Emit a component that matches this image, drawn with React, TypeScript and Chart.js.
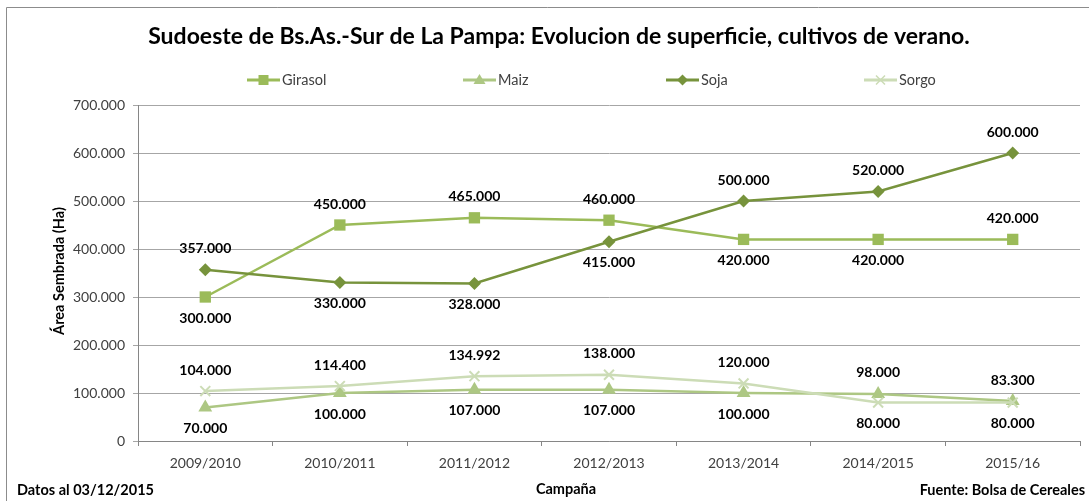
import { useEffect, useRef } from "react";
import { Chart, registerables } from "chart.js";

Chart.register(...registerables);

const categories = ["2009/2010", "2010/2011", "2011/2012", "2012/2013", "2013/2014", "2014/2015", "2015/16"];
const girasol = [300000, 450000, 465000, 460000, 420000, 420000, 420000];
const maiz = [70000, 100000, 107000, 107000, 100000, 98000, 83300];
const soja = [357000, 330000, 328000, 415000, 500000, 520000, 600000];
const sorgo = [104000, 114400, 134992, 138000, 120000, 80000, 80000];
const yMax = 700000;
const yStep = 100000;

// label placement (above / below the point)
const girasolPos = ["below", "above", "above", "above", "below", "below", "above"];
const maizPos = ["below", "below", "below", "below", "below", "above", "above"];
const sojaPos = ["above", "below", "below", "below", "above", "above", "above"];
const sorgoPos = ["above", "above", "above", "above", "above", "below", "below"];

const TITLE = "Sudoeste de Bs.As.-Sur de La Pampa: Evolucion de superficie, cultivos de verano.";
const Y_TITLE = "Área Sembrada (Ha)";
const X_TITLE = "Campaña";
const NOTE_LEFT = "Datos al 03/12/2015";
const NOTE_RIGHT = "Fuente: Bolsa de Cereales";

const FONT = "Lato, 'Open Sans', sans-serif";

const C_GIRASOL = "#9bbb59";
const C_MAIZ = "#adc783";
const C_SOJA = "#77933c";
const C_SORGO = "#ccdcb6";

function fmt(n: number): string {
  return String(Math.round(n)).replace(/\B(?=(\d{3})+(?!\d))/g, ".");
}

const placements = [girasolPos, maizPos, sojaPos, sorgoPos];

const customPlugin = {
  id: "custom",
  afterDatasetsDraw(chart: any) {
    const ctx = chart.ctx;
    ctx.save();
    ctx.font = `bold 14px ${FONT}`;
    ctx.fillStyle = "#000000";
    ctx.textAlign = "center";
    ctx.textBaseline = "middle";
    chart.data.datasets.forEach((ds: any, di: number) => {
      const meta = chart.getDatasetMeta(di);
      meta.data.forEach((pt: any, i: number) => {
        const pos = placements[di][i];
        const y = pos === "above" ? pt.y - 21 : pt.y + 21;
        ctx.fillText(fmt(ds.data[i]), pt.x, y);
      });
    });
    ctx.restore();
  },
  afterDraw(chart: any) {
    const ctx = chart.ctx;
    const W = chart.width;
    ctx.save();
    // frame
    ctx.strokeStyle = "#8c8c8c";
    ctx.lineWidth = 1;
    ctx.beginPath();
    ctx.moveTo(6.5, chart.height);
    ctx.lineTo(6.5, 7.5);
    ctx.lineTo(W, 7.5);
    ctx.stroke();

    // title
    ctx.fillStyle = "#000000";
    ctx.font = `bold 23px ${FONT}`;
    ctx.textAlign = "center";
    ctx.textBaseline = "middle";
    ctx.fillText(TITLE, 559, 37);

    // legend
    const items = [
      { label: "Girasol", color: C_GIRASOL, style: "rect", x: 247 },
      { label: "Maiz", color: C_MAIZ, style: "triangle", x: 463 },
      { label: "Soja", color: C_SOJA, style: "rectRot", x: 666 },
      { label: "Sorgo", color: C_SORGO, style: "crossRot", x: 864 },
    ];
    const ly = 80;
    items.forEach((it) => {
      ctx.strokeStyle = it.color;
      ctx.lineWidth = 3;
      ctx.beginPath();
      ctx.moveTo(it.x, ly);
      ctx.lineTo(it.x + 33, ly);
      ctx.stroke();
      ctx.fillStyle = it.color;
      ctx.strokeStyle = it.color;
      ctx.lineWidth = 1.5;
      const cx = it.x + 16.5;
      if (it.style === "rect") {
        ctx.fillRect(cx - 5, ly - 5, 10, 10);
      } else if (it.style === "triangle") {
        ctx.beginPath();
        ctx.moveTo(cx, ly - 6);
        ctx.lineTo(cx + 6, ly + 4);
        ctx.lineTo(cx - 6, ly + 4);
        ctx.closePath();
        ctx.fill();
      } else if (it.style === "rectRot") {
        ctx.beginPath();
        ctx.moveTo(cx, ly - 5.5);
        ctx.lineTo(cx + 5.5, ly);
        ctx.lineTo(cx, ly + 5.5);
        ctx.lineTo(cx - 5.5, ly);
        ctx.closePath();
        ctx.fill();
      } else {
        ctx.beginPath();
        ctx.moveTo(cx - 4.5, ly - 4.5);
        ctx.lineTo(cx + 4.5, ly + 4.5);
        ctx.moveTo(cx + 4.5, ly - 4.5);
        ctx.lineTo(cx - 4.5, ly + 4.5);
        ctx.stroke();
      }
      ctx.fillStyle = "#404040";
      ctx.font = `14.5px ${FONT}`;
      ctx.textAlign = "left";
      ctx.textBaseline = "middle";
      ctx.fillText(it.label, it.x + 35, ly);
    });

    // y axis title
    ctx.save();
    ctx.translate(59, 271);
    ctx.rotate(-Math.PI / 2);
    ctx.font = `bold 14.5px ${FONT}`;
    ctx.fillStyle = "#000000";
    ctx.textAlign = "center";
    ctx.textBaseline = "middle";
    ctx.fillText(Y_TITLE, 0, 0);
    ctx.restore();

    // x axis title & notes
    ctx.font = `bold 14.5px ${FONT}`;
    ctx.fillStyle = "#000000";
    ctx.textBaseline = "middle";
    ctx.textAlign = "center";
    ctx.fillText(X_TITLE, 566, 489);
    ctx.textAlign = "left";
    ctx.fillText(NOTE_LEFT, 17, 490);
    ctx.textAlign = "right";
    ctx.fillText(NOTE_RIGHT, 1085, 490);
    ctx.restore();
  },
};

export default function App() {
  const ref = useRef<HTMLCanvasElement | null>(null);
  useEffect(() => {
    document.body.style.margin = "0";
    const canvas = ref.current;
    if (!canvas) return;
    const chart = new Chart(canvas, {
      type: "line",
      data: {
        labels: categories,
        datasets: [
          {
            label: "Girasol",
            data: girasol,
            borderColor: C_GIRASOL,
            backgroundColor: C_GIRASOL,
            borderWidth: 2.5,
            pointStyle: "rect",
            pointRadius: 8,
            pointBorderWidth: 0,
            order: 4,
          },
          {
            label: "Maiz",
            data: maiz,
            borderColor: C_MAIZ,
            backgroundColor: C_MAIZ,
            borderWidth: 2.5,
            pointStyle: "triangle",
            pointRadius: 8,
            pointBorderWidth: 0,
            order: 3,
          },
          {
            label: "Soja",
            data: soja,
            borderColor: C_SOJA,
            backgroundColor: C_SOJA,
            borderWidth: 2.5,
            pointStyle: "rectRot",
            pointRadius: 6.5,
            pointBorderWidth: 0,
            order: 2,
          },
          {
            label: "Sorgo",
            data: sorgo,
            borderColor: C_SORGO,
            backgroundColor: C_SORGO,
            borderWidth: 2.5,
            pointStyle: "crossRot",
            pointRadius: 7,
            pointBorderWidth: 2,
            order: 1,
          },
        ],
      },
      options: {
        responsive: true,
        maintainAspectRatio: false,
        animation: false,
        layout: { padding: { top: 105, right: 9, left: 0, bottom: 0 } },
        plugins: {
          legend: { display: false },
          title: { display: false },
          tooltip: { enabled: false },
        },
        scales: {
          x: {
            type: "category",
            offset: true,
            grid: { offset: true, drawOnChartArea: false, tickLength: 5, color: "#868686" },
            border: { color: "#868686" },
            ticks: { font: { family: FONT, size: 14 }, color: "#404040", padding: 9, maxRotation: 0, autoSkip: false },
            afterFit: (s: any) => {
              s.height = 60;
            },
          },
          y: {
            min: 0,
            max: yMax,
            ticks: {
              stepSize: yStep,
              font: { family: FONT, size: 14 },
              color: "#404040",
              padding: 8,
              callback: (v: any) => fmt(Number(v)),
            },
            grid: { color: "#a6a6a6", tickLength: 5 },
            border: { color: "#868686" },
            afterFit: (s: any) => {
              s.width = 138;
            },
          },
        },
      },
      plugins: [customPlugin],
    });
    return () => chart.destroy();
  }, []);
  return (
    <div style={{ width: 1089, height: 501, position: "relative", background: "#ffffff" }}>
      <canvas ref={ref} />
    </div>
  );
}
